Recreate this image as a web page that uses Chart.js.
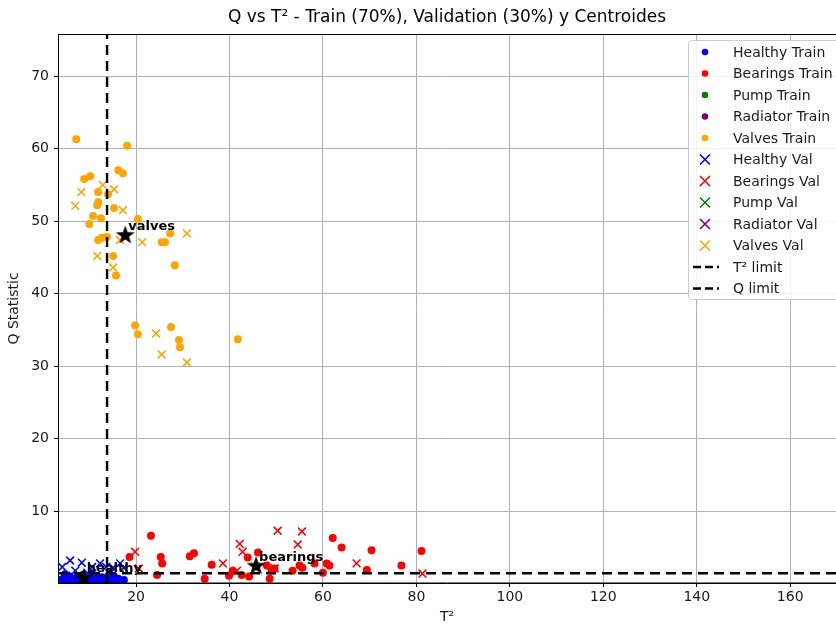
<!DOCTYPE html>
<html>
<head>
<meta charset="utf-8">
<script src="https://cdn.jsdelivr.net/npm/chart.js@4.4.1/dist/chart.umd.min.js"></script>
<style>
  html, body { margin: 0; padding: 0; background: #fff; }
  #wrap { position: relative; width: 836px; height: 626px; }
</style>
</head>
<body>
<div id="wrap"><canvas id="qChart" width="836" height="626"></canvas></div>
<script>
// ---- data (T² on x, Q statistic on y) ----
const healthyTrainT2 = [4.2, 5.1, 5.8, 6.5, 7.3, 7.9, 8.6, 9.4, 10.1, 10.8, 11.5, 12.3, 13.0, 13.8, 14.6, 15.3, 16.2, 17.4, 4.8, 6.1, 7.0, 8.2, 9.0, 10.5, 11.9, 12.7, 14.2, 15.8, 5.4, 9.8];
const healthyTrainQ  = [0.6, 0.3, 1.0, 0.4, 0.8, 0.2, 1.2, 0.5, 0.9, 0.3, 1.1, 0.6, 0.2, 0.8, 0.4, 1.0, 0.7, 0.5, 1.3, 0.7, 0.3, 1.0, 0.6, 1.4, 0.4, 0.9, 1.2, 0.3, 0.1, 0.2];

const bearingsTrainT2 = [18.6, 23.2, 24.5, 25.3, 25.6, 31.5, 32.4, 34.7, 36.2, 39.9, 40.7, 42.6, 43.9, 44.2, 46.1, 48.0, 48.6, 49.0, 49.6, 53.5, 55.0, 55.6, 58.2, 60.0, 60.8, 61.4, 62.1, 64.0, 69.4, 70.4, 76.8, 81.1];
const bearingsTrainQ  = [3.7, 6.6, 1.2, 3.7, 2.8, 3.8, 4.2, 0.7, 2.6, 1.1, 1.8, 1.2, 3.6, 1.0, 4.3, 2.5, 0.7, 1.8, 2.1, 1.8, 2.5, 2.2, 2.8, 1.5, 2.8, 2.5, 6.3, 5.0, 1.9, 4.6, 2.5, 4.5];

const pumpTrainT2 = [];
const pumpTrainQ  = [];
const radiatorTrainT2 = [];
const radiatorTrainQ  = [];

const valvesTrainT2 = [7.2, 18.1, 16.2, 17.2, 10.2, 8.9, 11.9, 14.0, 11.9, 11.7, 15.3, 10.8, 12.5, 10.0, 20.4, 27.3, 26.2, 25.5, 12.7, 13.8, 11.9, 15.1, 15.7, 28.3, 19.8, 20.4, 27.5, 29.2, 29.4, 41.8];
const valvesTrainQ  = [61.3, 60.4, 57.0, 56.6, 56.2, 55.8, 54.0, 53.7, 52.6, 52.2, 51.8, 50.7, 50.4, 49.6, 50.3, 48.3, 47.1, 47.1, 47.7, 47.8, 47.4, 45.2, 42.5, 43.9, 35.6, 34.4, 35.4, 33.6, 32.6, 33.7];

const healthyValT2 = [4.2, 5.9, 8.4, 10.6, 12.3, 13.6, 15.1, 16.6, 17.4, 14.5, 9.7, 5.0, 7.0];
const healthyValQ  = [2.3, 3.2, 2.9, 2.3, 2.8, 2.3, 2.2, 2.8, 2.2, 1.5, 1.4, 1.1, 1.8];

const bearingsValT2 = [19.8, 20.6, 38.6, 42.2, 42.8, 41.6, 50.3, 55.5, 54.6, 49.7, 67.2, 81.3];
const bearingsValQ  = [4.4, 2.1, 2.8, 5.5, 4.4, 1.8, 7.3, 7.2, 5.4, 2.1, 2.8, 1.4];

const pumpValT2 = [];
const pumpValQ  = [];
const radiatorValT2 = [];
const radiatorValQ  = [];

const valvesValT2 = [12.9, 15.3, 8.3, 7.0, 17.2, 11.7, 15.1, 16.6, 21.3, 30.9, 24.3, 25.5, 30.9];
const valvesValQ  = [55.0, 54.4, 54.0, 52.1, 51.5, 45.2, 43.6, 47.4, 47.1, 48.3, 34.5, 31.6, 30.5];

const centroidNames = ['healthy', 'bearings', 'valves'];
const centroidT2 = [8.8, 45.7, 17.7];
const centroidQ  = [0.9, 2.5, 48.1];

const t2Limit = 13.8;
const qLimit = 1.45;

const xRange = [3.3, 169.8];
const yRange = [0.1, 75.8];
const xTicks = [20, 40, 60, 80, 100, 120, 140, 160];
const yTicks = [10, 20, 30, 40, 50, 60, 70];

const classNames = ['Healthy', 'Bearings', 'Pump', 'Radiator', 'Valves'];
const classColors = ['#0000ff', '#ff0000', '#008000', '#800080', '#ffa500'];

const FONT = "'DejaVu Sans', sans-serif";

function toPoints(xs, ys) {
    return xs.map((x, i) => ({ x: x, y: ys[i] }));
}

// filled five-point star used for the centroids
function makeStar(size) {
    const c = document.createElement('canvas');
    c.width = size; c.height = size;
    const g = c.getContext('2d');
    const R = size / 2, r = R * 0.4;
    g.beginPath();
    for (let i = 0; i < 10; i++) {
        const rad = i % 2 === 0 ? R : r;
        const a = -Math.PI / 2 + i * Math.PI / 5;
        const px = R + rad * Math.cos(a), py = R + 0.5 + rad * Math.sin(a);
        if (i === 0) g.moveTo(px, py); else g.lineTo(px, py);
    }
    g.closePath();
    g.fillStyle = '#000';
    g.fill();
    return c;
}
const starImg = makeStar(20);

const trainSets = [
    [healthyTrainT2, healthyTrainQ], [bearingsTrainT2, bearingsTrainQ], [pumpTrainT2, pumpTrainQ],
    [radiatorTrainT2, radiatorTrainQ], [valvesTrainT2, valvesTrainQ]
];
const valSets = [
    [healthyValT2, healthyValQ], [bearingsValT2, bearingsValQ], [pumpValT2, pumpValQ],
    [radiatorValT2, radiatorValQ], [valvesValT2, valvesValQ]
];

const datasets = [];
classNames.forEach((name, i) => {
    datasets.push({
        label: name + ' Train',
        data: toPoints(trainSets[i][0], trainSets[i][1]),
        backgroundColor: classColors[i],
        borderColor: classColors[i],
        pointStyle: 'circle',
        pointRadius: 4,
        borderWidth: 0,
        order: 4
    });
});
classNames.forEach((name, i) => {
    datasets.push({
        label: name + ' Val',
        data: toPoints(valSets[i][0], valSets[i][1]),
        backgroundColor: classColors[i],
        borderColor: classColors[i],
        pointStyle: 'crossRot',
        pointRadius: 5.5,
        borderWidth: 1.6,
        order: 3
    });
});
datasets.push({
    label: 'T² limit',
    data: [{ x: t2Limit, y: yRange[0] }, { x: t2Limit, y: yRange[1] }],
    showLine: true, borderColor: '#000', borderWidth: 2.4, borderDash: [10, 6],
    pointRadius: 0, order: 2
});
datasets.push({
    label: 'Q limit',
    data: [{ x: xRange[0], y: qLimit }, { x: xRange[1], y: qLimit }],
    showLine: true, borderColor: '#000', borderWidth: 2.4, borderDash: [10, 6],
    pointRadius: 0, order: 2
});
datasets.push({
    label: 'Centroids',
    data: toPoints(centroidT2, centroidQ),
    pointStyle: starImg,
    pointRadius: 10,
    order: 1
});

// title, frame, centroid labels and an in-plot legend
const decorPlugin = {
    id: 'decor',
    afterDraw(chart) {
        const ctx = chart.ctx;
        const area = chart.chartArea;
        const xs = chart.scales.x, ys = chart.scales.y;
        ctx.save();

        // frame
        ctx.strokeStyle = '#000';
        ctx.lineWidth = 1;
        ctx.strokeRect(area.left + 0.5, area.top + 0.5, area.right - area.left, area.bottom - area.top - 0.5);

        // centroid labels
        ctx.fillStyle = '#000';
        ctx.font = 'bold 13px ' + FONT;
        ctx.textBaseline = 'alphabetic';
        ctx.textAlign = 'left';
        centroidNames.forEach((n, i) => {
            ctx.fillText(n, xs.getPixelForValue(centroidT2[i]) + 3, ys.getPixelForValue(centroidQ[i]) - 5);
        });

        // title
        ctx.font = '17px ' + FONT;
        ctx.textAlign = 'center';
        ctx.textBaseline = 'middle';
        ctx.fillText('Q vs T² - Train (70%), Validation (30%) y Centroides', (area.left + area.right) / 2, 18);

        // legend box
        const lx = 688, ly = 40, lw = 160, lh = 259;
        ctx.fillStyle = 'rgba(255,255,255,0.85)';
        ctx.strokeStyle = '#cccccc';
        ctx.lineWidth = 1;
        ctx.beginPath();
        ctx.roundRect(lx + 0.5, ly + 0.5, lw, lh, 3);
        ctx.fill();
        ctx.stroke();

        const rowH = 21.5;
        let rowY = 52;
        ctx.font = '14px ' + FONT;
        ctx.textAlign = 'left';
        ctx.textBaseline = 'middle';
        const legendRows = chart.data.datasets.filter(d => d.label !== 'Centroids');
        legendRows.forEach(d => {
            const mx = 705;
            if (d.pointStyle === 'circle') {
                ctx.fillStyle = d.backgroundColor;
                ctx.beginPath();
                ctx.arc(mx, rowY, 3.3, 0, Math.PI * 2);
                ctx.fill();
            } else if (d.pointStyle === 'crossRot') {
                ctx.strokeStyle = d.borderColor;
                ctx.lineWidth = 1.6;
                ctx.beginPath();
                ctx.moveTo(mx - 5, rowY - 5); ctx.lineTo(mx + 5, rowY + 5);
                ctx.moveTo(mx + 5, rowY - 5); ctx.lineTo(mx - 5, rowY + 5);
                ctx.stroke();
            } else {
                ctx.strokeStyle = '#000';
                ctx.lineWidth = 2.4;
                ctx.setLineDash([8, 4]);
                ctx.beginPath();
                ctx.moveTo(mx - 12, rowY); ctx.lineTo(mx + 14, rowY);
                ctx.stroke();
                ctx.setLineDash([]);
            }
            ctx.fillStyle = '#1a1a1a';
            ctx.fillText(d.label, 733, rowY + 1);
            rowY += rowH;
        });
        ctx.restore();
    }
};

function initChart() {
    const ctx = document.getElementById('qChart').getContext('2d');
    new Chart(ctx, {
        type: 'scatter',
        data: { datasets: datasets },
        options: {
            responsive: false,
            animation: false,
            layout: { autoPadding: false, padding: { top: 34, right: 0, left: 0, bottom: 0 } },
            plugins: {
                legend: { display: false },
                tooltip: { enabled: false }
            },
            scales: {
                x: {
                    type: 'linear',
                    min: xRange[0],
                    max: xRange[1],
                    afterBuildTicks: axis => { axis.ticks = xTicks.map(v => ({ value: v })); },
                    afterFit: axis => { axis.height = 43; axis.paddingRight = 0; axis.paddingLeft = 0; },
                    grid: { color: '#b0b0b0', tickColor: '#000', tickLength: 4, lineWidth: 1 },
                    border: { color: '#000' },
                    ticks: { color: '#1a1a1a', font: { family: FONT, size: 14 }, padding: 2, maxRotation: 0 },
                    title: { display: true, text: 'T²', color: '#1a1a1a', font: { family: FONT, size: 14 }, padding: { top: 0, bottom: 0 } }
                },
                y: {
                    type: 'linear',
                    min: yRange[0],
                    max: yRange[1],
                    afterBuildTicks: axis => { axis.ticks = yTicks.map(v => ({ value: v })); },
                    afterFit: axis => { axis.width = 58; axis.paddingTop = 0; axis.paddingBottom = 0; },
                    grid: { color: '#b0b0b0', tickColor: '#000', tickLength: 4, lineWidth: 1 },
                    border: { color: '#000' },
                    ticks: { color: '#1a1a1a', font: { family: FONT, size: 14 }, padding: 5 },
                    title: { display: true, text: 'Q Statistic', color: '#1a1a1a', font: { family: FONT, size: 14 }, padding: { top: 6, bottom: 0 } }
                }
            }
        },
        plugins: [decorPlugin]
    });
}

document.addEventListener('DOMContentLoaded', initChart);
</script>
</body>
</html>
